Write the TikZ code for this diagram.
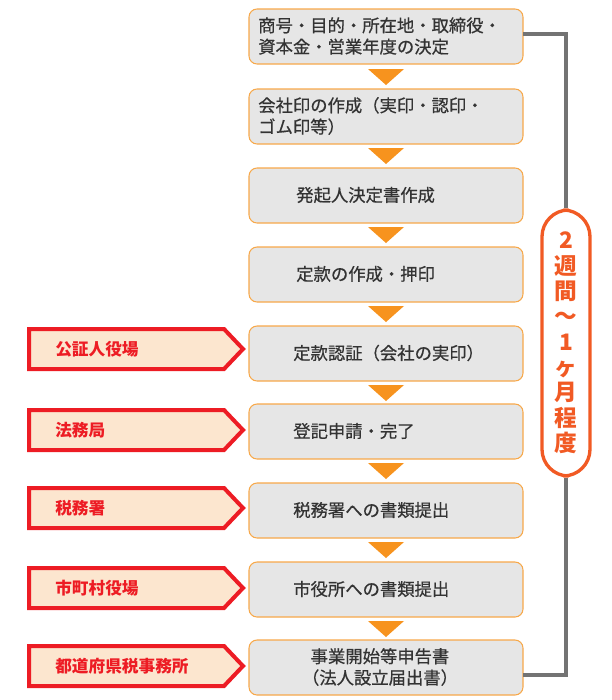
\documentclass[tikz,border=0pt]{standalone}
\usepackage{fontspec}
\setmainfont{Noto Sans CJK JP}
\newfontfamily\medfont[FakeBold=0.6]{Noto Sans CJK JP}
\definecolor{boxfill}{HTML}{E6E6E6}
\definecolor{boxline}{HTML}{F7A84A}
\definecolor{arr}{HTML}{F7931E}
\definecolor{redl}{HTML}{ED1C24}
\definecolor{lblfill}{HTML}{FCE6CF}
\definecolor{pillc}{HTML}{F15A24}
\definecolor{txt}{HTML}{333333}
\begin{document}
\begin{tikzpicture}[x=0.75pt,y=-0.75pt,
  stepbox/.style={draw=boxline,fill=boxfill,rounded corners=6pt,line width=0.8pt},
  tx/.style={anchor=west,font=\medfont\fontsize{13}{16}\selectfont,text=txt,align=left,inner sep=0pt},
  arrtri/.style={fill=arr},
  lbl/.style={draw=redl,fill=lblfill,line width=3pt},
  lbltx/.style={anchor=west,font=\bfseries\fontsize{12.5}{15}\selectfont,text=redl,inner sep=0pt}]
\useasboundingbox (0,0) rectangle (611,700);
\foreach \i/\y in {1/9,2/89,3/168,4/247,5/326,6/404,7/483,8/562,9/640}{
  \draw[stepbox] (249,\y) rectangle (523,\y+55);
  \coordinate (b\i) at (386,\y+27.5);
}
\foreach \y in {69,148,227,306,385,463,542,621}{
  \fill[arrtri] (368,\y) -- (404,\y) -- (386,\y+16) -- cycle;
}
\node[tx] (t1) at (258,36) {商号・目的・所在地・取締役・\\資本金・営業年度の決定};
\node[tx] (t2) at (258,116) {会社印の作成（実印・認印・\\ゴム印等）};
\node[tx] (t3) at (296,195) {発起人決定書作成};
\node[tx] (t4) at (296,274) {定款の作成・押印};
\node[tx] (t5) at (293,353) {定款認証（会社の実印）};
\node[tx] (t6) at (293,431) {登記申請・完了};
\node[tx] (t7) at (293,510) {税務署への書類提出};
\node[tx] (t8) at (293,589) {市役所への書類提出};
\node[tx,anchor=center,align=center] (t9) at (380,667) {事業開始等申告書\\（法人設立届出書）};
\foreach \i/\y/\t in {5/349/公証人役場,6/430/法務局,7/508/税務署,8/588/市町村役場,9/666/都道府県税事務所}{
  \draw[lbl] (29,\y-20) -- (224,\y-20) -- (243,\y) -- (224,\y+20) -- (29,\y+20) -- cycle;
  \node[lbltx] (l\i) at (55,\y) {\t};
}
\node[draw=pillc,fill=white,line width=2.5pt,rounded corners=20pt,minimum width=48*0.75pt,minimum height=266*0.75pt,inner sep=0pt] (pill) at (566,343) {};
\node[font=\fontsize{17}{19}\selectfont\bfseries,text=pillc,align=center,inner sep=0pt] at (566,343) {2\\週\\間\\〜\\1\\ヶ\\月\\程\\度};
\draw[gray!90!black,line width=3pt] (523,34) -- (566,34) -- (pill.north);
\draw[gray!90!black,line width=3pt] (pill.south) -- (566,675) -- (523,675);
\end{tikzpicture}
\end{document}
